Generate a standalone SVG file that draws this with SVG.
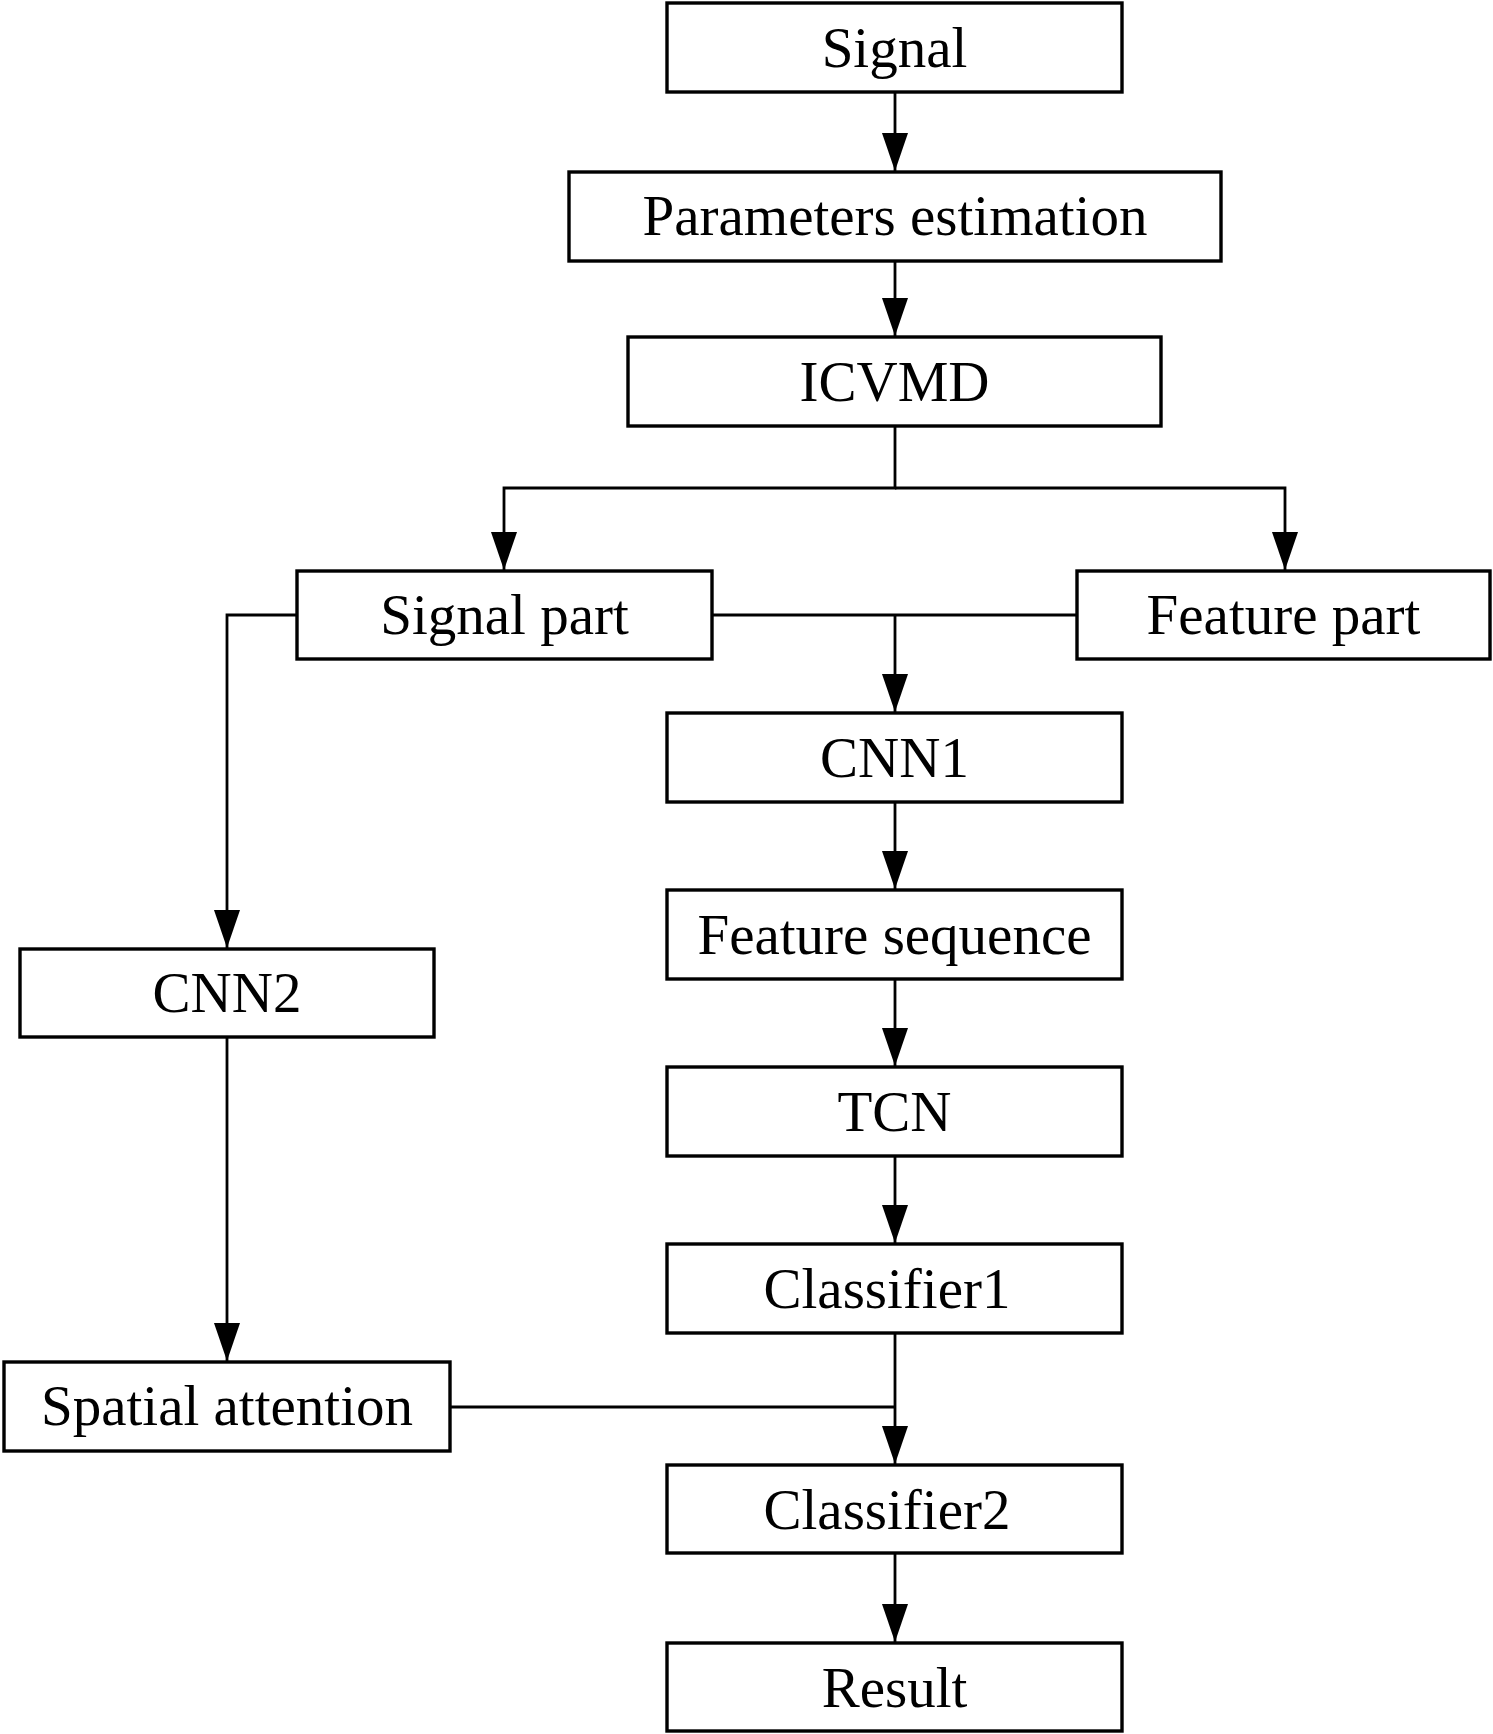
<svg xmlns="http://www.w3.org/2000/svg" width="1493" height="1734" viewBox="0 0 1493 1734">
<style>
.box{fill:#fff;stroke:#000;stroke-width:3.4}
.lbl{font-family:"Liberation Serif","Times New Roman",serif;font-size:57px;text-anchor:middle;fill:#000}
.ln{fill:none;stroke:#000;stroke-width:2.8}
</style>
<defs>
<marker id="arr" markerUnits="userSpaceOnUse" markerWidth="40" markerHeight="28" refX="38" refY="13" orient="auto">
<path d="M0,0 L38,13 L0,26 z" fill="#000"/>
</marker>
</defs>
<rect width="1493" height="1734" fill="#fff"/>
<g id="connectors">
<line class="ln" x1="895" y1="92" x2="895" y2="171" marker-end="url(#arr)"/>
<line class="ln" x1="895" y1="261" x2="895" y2="336" marker-end="url(#arr)"/>
<polyline class="ln" points="895,426 895,488 504,488 504,570" marker-end="url(#arr)"/>
<polyline class="ln" points="895,488 1285,488 1285,570" marker-end="url(#arr)"/>
<line class="ln" x1="712" y1="615" x2="1077" y2="615"/>
<line class="ln" x1="895" y1="615" x2="895" y2="712" marker-end="url(#arr)"/>
<polyline class="ln" points="297,615 227,615 227,948" marker-end="url(#arr)"/>
<line class="ln" x1="895" y1="802" x2="895" y2="889" marker-end="url(#arr)"/>
<line class="ln" x1="895" y1="979" x2="895" y2="1066" marker-end="url(#arr)"/>
<line class="ln" x1="895" y1="1156" x2="895" y2="1243" marker-end="url(#arr)"/>
<line class="ln" x1="227" y1="1037" x2="227" y2="1361" marker-end="url(#arr)"/>
<line class="ln" x1="895" y1="1333" x2="895" y2="1464" marker-end="url(#arr)"/>
<line class="ln" x1="450" y1="1407" x2="895" y2="1407"/>
<line class="ln" x1="895" y1="1553" x2="895" y2="1642" marker-end="url(#arr)"/>
</g>
<g id="signal"><rect class="box" x="667" y="3" width="455" height="89"/><text class="lbl" x="894.5" y="67">Signal</text></g>
<g id="params"><rect class="box" x="569" y="172" width="652" height="89"/><text class="lbl" x="895" y="235">Parameters estimation</text></g>
<g id="icvmd"><rect class="box" x="628" y="337" width="533" height="89"/><text class="lbl" x="894.5" y="401">ICVMD</text></g>
<g id="signal-part"><rect class="box" x="297" y="571" width="415" height="88"/><text class="lbl" x="504.5" y="634">Signal part</text></g>
<g id="feature-part"><rect class="box" x="1077" y="571" width="413" height="88"/><text class="lbl" x="1283.5" y="634">Feature part</text></g>
<g id="cnn1"><rect class="box" x="667" y="713" width="455" height="89"/><text class="lbl" x="894.5" y="777">CNN1</text></g>
<g id="feature-seq"><rect class="box" x="667" y="890" width="455" height="89"/><text class="lbl" x="894.5" y="954">Feature sequence</text></g>
<g id="tcn"><rect class="box" x="667" y="1067" width="455" height="89"/><text class="lbl" x="894.5" y="1131">TCN</text></g>
<g id="classifier1"><rect class="box" x="667" y="1244" width="455" height="89"/><text class="lbl" x="887" y="1308">Classifier1</text></g>
<g id="cnn2"><rect class="box" x="20" y="949" width="414" height="88"/><text class="lbl" x="227" y="1012">CNN2</text></g>
<g id="spatial"><rect class="box" x="4" y="1362" width="446" height="89"/><text class="lbl" x="227" y="1425">Spatial attention</text></g>
<g id="classifier2"><rect class="box" x="667" y="1465" width="455" height="88"/><text class="lbl" x="887" y="1529">Classifier2</text></g>
<g id="result"><rect class="box" x="667" y="1643" width="455" height="88"/><text class="lbl" x="894.5" y="1707">Result</text></g>
</svg>
